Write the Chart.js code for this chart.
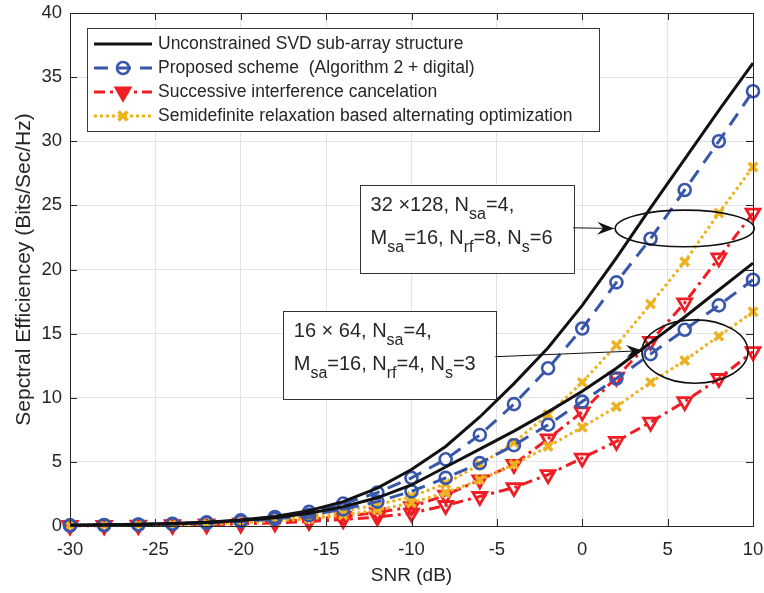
<!DOCTYPE html>
<html><head><meta charset="utf-8">
<script src="https://cdn.jsdelivr.net/npm/chart.js@4.4.0/dist/chart.umd.min.js"></script>
<style>html,body{margin:0;padding:0;background:#fff}#wrap{width:764px;height:593px}</style>
</head><body><div id="wrap"><canvas id="c" width="764" height="593"></canvas></div>
<script>
// ---------- data ----------
const snr = [-30,-28,-26,-24,-22,-20,-18,-16,-14,-12,-10,-8,-6,-4,-2,0,2,4,6,8,10];
const xTicks = [-30,-25,-20,-15,-10,-5,0,5,10];
const yTicks = [0,5,10,15,20,25,30,35,40];
// 32 x 128 system
const svd128  = [0.06,0.09,0.14,0.2,0.3,0.47,0.75,1.2,1.9,2.95,4.4,6.2,8.5,11.1,13.9,17.2,20.9,24.8,28.6,32.4,36.1];
const prop128 = [0.05,0.08,0.12,0.18,0.28,0.44,0.7,1.1,1.75,2.6,3.75,5.2,7.1,9.5,12.3,15.4,19.0,22.4,26.2,30.0,33.9];
const sdr128  = [0.04,0.06,0.09,0.14,0.22,0.33,0.52,0.78,1.15,1.65,2.3,3.3,4.8,6.5,8.7,11.2,14.1,17.3,20.6,24.4,28.0];
const sic128  = [0.03,0.05,0.07,0.1,0.16,0.24,0.35,0.5,0.75,1.05,1.5,2.4,3.6,4.8,6.8,8.9,11.6,14.4,17.4,20.9,24.4];
// 16 x 64 system
const svd64   = [0.05,0.08,0.12,0.18,0.27,0.42,0.65,1.0,1.5,2.2,3.2,4.6,6.0,7.4,8.9,10.5,12.3,14.3,16.3,18.4,20.5];
const prop64  = [0.04,0.06,0.1,0.15,0.23,0.36,0.55,0.85,1.3,1.9,2.7,3.75,4.9,6.3,7.9,9.7,11.5,13.4,15.3,17.2,19.2];
const sdr64   = [0.03,0.04,0.07,0.1,0.16,0.25,0.38,0.57,0.85,1.25,1.8,2.6,3.6,4.8,6.2,7.7,9.3,11.2,12.9,14.8,16.7];
const sic64   = [0.02,0.03,0.05,0.07,0.1,0.16,0.24,0.35,0.5,0.7,1.0,1.6,2.3,3.0,4.0,5.3,6.6,8.1,9.7,11.5,13.6];
const legendLabels = [
  'Unconstrained SVD sub-array structure',
  'Proposed scheme  (Algorithm 2 + digital)',
  'Successive interference cancelation',
  'Semidefinite relaxation based alternating optimization'
];

// ---------- styles ----------
const FONT = '"Liberation Sans", Arial, Helvetica, sans-serif';
const TXT = '#262626';
const cBlack = '#111111', cBlue = 'rgb(56,86,170)', cRed = 'rgb(238,30,36)', cYel = 'rgb(236,178,32)';
const styles = [
  {color:cBlack, dash:[], width:3, point:false, radius:0, bw:0, rot:0},
  {color:cBlue, dash:[14,9], width:3, point:'circle', radius:6, bw:2.6, rot:0},
  {color:cRed, dash:[11,5,3,5], width:3, point:'triangle', radius:8, bw:2.8, rot:180},
  {color:cYel, dash:[3,3], width:3, point:'crossRot', radius:6, bw:3.5, rot:0}
];
function mk(data, s, label){
  return {
    label, data: data.map((v,i)=>({x:snr[i], y:v})),
    borderColor:s.color, backgroundColor:'rgba(0,0,0,0)', borderWidth:s.width, borderDash:s.dash,
    pointStyle:s.point, pointRadius:s.radius, pointBorderWidth:s.bw, pointRotation:s.rot,
    pointBorderColor:s.color, pointBackgroundColor:'rgba(0,0,0,0)',
    tension:0, fill:false, clip:false
  };
}
const datasets = [
  mk(svd128, styles[0], legendLabels[0]), mk(svd64, styles[0], legendLabels[0]),
  mk(prop128, styles[1], legendLabels[1]), mk(prop64, styles[1], legendLabels[1]),
  mk(sdr128, styles[3], legendLabels[3]), mk(sdr64, styles[3], legendLabels[3]),
  mk(sic128, styles[2], legendLabels[2]), mk(sic64, styles[2], legendLabels[2])
];

function richText(ctx, parts, x, y, size){
  let cx = x;
  parts.forEach(p=>{
    const sub = p[1];
    ctx.font = (sub ? Math.round(size*0.8) : size) + 'px ' + FONT;
    ctx.fillText(p[0], cx, sub ? y + size*0.42 : y);
    cx += ctx.measureText(p[0]).width;
  });
}
function arrow(ctx, x1, y1, x2, y2){
  ctx.beginPath(); ctx.moveTo(x1,y1); ctx.lineTo(x2,y2); ctx.stroke();
  const a = Math.atan2(y2-y1, x2-x1), L = 17, W = 6.5;
  ctx.save(); ctx.translate(x2,y2); ctx.rotate(a);
  ctx.beginPath(); ctx.moveTo(0,0); ctx.lineTo(-L,-W); ctx.lineTo(-L*0.65,0); ctx.lineTo(-L,W); ctx.closePath();
  ctx.fill(); ctx.restore();
}
function marker(ctx, s, x, y){
  ctx.save(); ctx.strokeStyle = s.color; ctx.fillStyle = s.color; ctx.lineWidth = s.bw; ctx.setLineDash([]);
  ctx.translate(x, y);
  if (s.point === 'circle'){ ctx.beginPath(); ctx.arc(0,0,s.radius,0,Math.PI*2); ctx.stroke(); }
  else if (s.point === 'triangle'){
    const r = s.radius; ctx.beginPath();
    ctx.moveTo(-r*0.87, -r*0.5); ctx.lineTo(r*0.87, -r*0.5); ctx.lineTo(0, r); ctx.closePath(); ctx.fill(); ctx.stroke();
  } else if (s.point === 'crossRot'){
    const r = s.radius*0.75; ctx.beginPath(); ctx.moveTo(-r,-r); ctx.lineTo(r,r); ctx.moveTo(r,-r); ctx.lineTo(-r,r); ctx.stroke();
  }
  ctx.restore();
}

const overlay = {
  id:'overlay',
  afterDraw(chart){
    const ctx = chart.ctx, xs = chart.scales.x, ys = chart.scales.y, ca = chart.chartArea;
    const X = v=>xs.getPixelForValue(v), Y = v=>ys.getPixelForValue(v);
    ctx.save();
    // inward ticks + frame
    ctx.strokeStyle = TXT; ctx.lineWidth = 1; ctx.setLineDash([]);
    xTicks.forEach(t=>{ const px = Math.round(X(t))+0.5;
      ctx.beginPath(); ctx.moveTo(px, ca.bottom); ctx.lineTo(px, ca.bottom-7);
      ctx.moveTo(px, ca.top); ctx.lineTo(px, ca.top+7); ctx.stroke(); });
    yTicks.forEach(t=>{ const py = Math.round(Y(t))+0.5;
      ctx.beginPath(); ctx.moveTo(ca.left, py); ctx.lineTo(ca.left+7, py);
      ctx.moveTo(ca.right, py); ctx.lineTo(ca.right-7, py); ctx.stroke(); });
    ctx.strokeRect(Math.round(ca.left)+0.5, Math.round(ca.top)+0.5, Math.round(ca.right-ca.left), Math.round(ca.bottom-ca.top));

    // legend
    const lx = 87, ly = 28, lw = 512, lh = 103;
    ctx.fillStyle = '#fff'; ctx.fillRect(lx, ly, lw, lh);
    ctx.strokeStyle = '#3a3a3a'; ctx.lineWidth = 1; ctx.strokeRect(lx+0.5, ly+0.5, lw, lh);
    const rows = [44, 68, 92, 116];
    styles.forEach((s,i)=>{
      const y = rows[i];
      ctx.strokeStyle = s.color; ctx.lineWidth = s.width; ctx.setLineDash(s.dash);
      ctx.beginPath(); ctx.moveTo(94, y); ctx.lineTo(152, y); ctx.stroke();
      ctx.setLineDash([]);
      if (s.point) marker(ctx, s, 123, y);
      ctx.fillStyle = TXT; ctx.font = '17.5px ' + FONT; ctx.textBaseline = 'middle'; ctx.textAlign = 'left';
      ctx.fillText(legendLabels[i], 158, y);
    });

    // annotation box 1 (32 x 128)
    ctx.textBaseline = 'alphabetic'; ctx.setLineDash([]);
    let bx1 = X(-13.04), by1 = Y(26.6), bx2 = X(-0.53), by2 = Y(19.7);
    ctx.fillStyle = '#fff'; ctx.fillRect(bx1, by1, bx2-bx1, by2-by1);
    ctx.strokeStyle = '#333'; ctx.lineWidth = 1; ctx.strokeRect(Math.round(bx1)+0.5, Math.round(by1)+0.5, Math.round(bx2-bx1), Math.round(by2-by1));
    ctx.fillStyle = TXT;
    richText(ctx, [['32 \u00d7128, N'],['sa',1],['=4,']], bx1+11, by1+26, 20);
    richText(ctx, [['M'],['sa',1],['=16, N'],['rf',1],['=8, N'],['s',1],['=6']], bx1+11, by1+59, 20);
    // annotation box 2 (16 x 64)
    bx1 = X(-17.54); by1 = Y(16.8); bx2 = X(-5.09); by2 = Y(9.92);
    ctx.fillStyle = '#fff'; ctx.fillRect(bx1, by1, bx2-bx1, by2-by1);
    ctx.strokeStyle = '#333'; ctx.strokeRect(Math.round(bx1)+0.5, Math.round(by1)+0.5, Math.round(bx2-bx1), Math.round(by2-by1));
    ctx.fillStyle = TXT;
    richText(ctx, [['16 \u00d7 64, N'],['sa',1],['=4,']], bx1+11, by1+26, 20);
    richText(ctx, [['M'],['sa',1],['=16, N'],['rf',1],['=4, N'],['s',1],['=3']], bx1+11, by1+59, 20);

    // ellipses
    ctx.strokeStyle = '#111'; ctx.lineWidth = 1.6;
    ctx.beginPath(); ctx.ellipse(X(6.0), Y(23.2), 69.5, 18.3, 0, 0, Math.PI*2); ctx.stroke();
    ctx.beginPath(); ctx.ellipse(X(6.6), Y(13.6), 53, 31.7, 0, 0, Math.PI*2); ctx.stroke();
    // arrows
    ctx.fillStyle = '#111'; ctx.lineWidth = 1;
    arrow(ctx, X(-0.53), Y(23.25), X(1.87), Y(23.2));
    arrow(ctx, X(-5.09), Y(13.2), X(3.57), Y(13.67));
    ctx.restore();
  }
};

new Chart(document.getElementById('c'), {
  type:'line',
  data:{ datasets },
  plugins:[overlay],
  options:{
    responsive:false, animation:false, devicePixelRatio:1,
    layout:{ autoPadding:false, padding:{ top:13, right:11, bottom:0, left:0 } },
    plugins:{ legend:{display:false}, tooltip:{enabled:false} },
    scales:{
      x:{ type:'linear', min:-30, max:10,
        afterBuildTicks(s){ s.ticks = xTicks.map(v=>({value:v})); },
        afterFit(s){ s.height = 67; s.paddingLeft = 0; s.paddingRight = 0; s.paddingTop = 0; s.paddingBottom = 0; },
        ticks:{ font:{family:FONT, size:18.5}, color:TXT, padding:13, maxRotation:0 },
        grid:{ color:'#e3e3e3', lineWidth:1, drawTicks:false },
        border:{ display:false },
        title:{ display:true, text:'SNR (dB)', font:{family:FONT, size:19}, color:TXT, padding:{top:2, bottom:6} }
      },
      y:{ min:0, max:40,
        afterBuildTicks(s){ s.ticks = yTicks.map(v=>({value:v})); },
        afterFit(s){ s.width = 70; s.paddingLeft = 0; s.paddingRight = 0; s.paddingTop = 0; s.paddingBottom = 0; },
        ticks:{ font:{family:FONT, size:18.5}, color:TXT, padding:8 },
        grid:{ color:'#e3e3e3', lineWidth:1, drawTicks:false },
        border:{ display:false },
        title:{ display:true, text:'Sepctral Efficiencey (Bits/Sec/Hz)', font:{family:FONT, size:21}, color:TXT, padding:{top:12, bottom:0} }
      }
    }
  }
});
</script></body></html>
